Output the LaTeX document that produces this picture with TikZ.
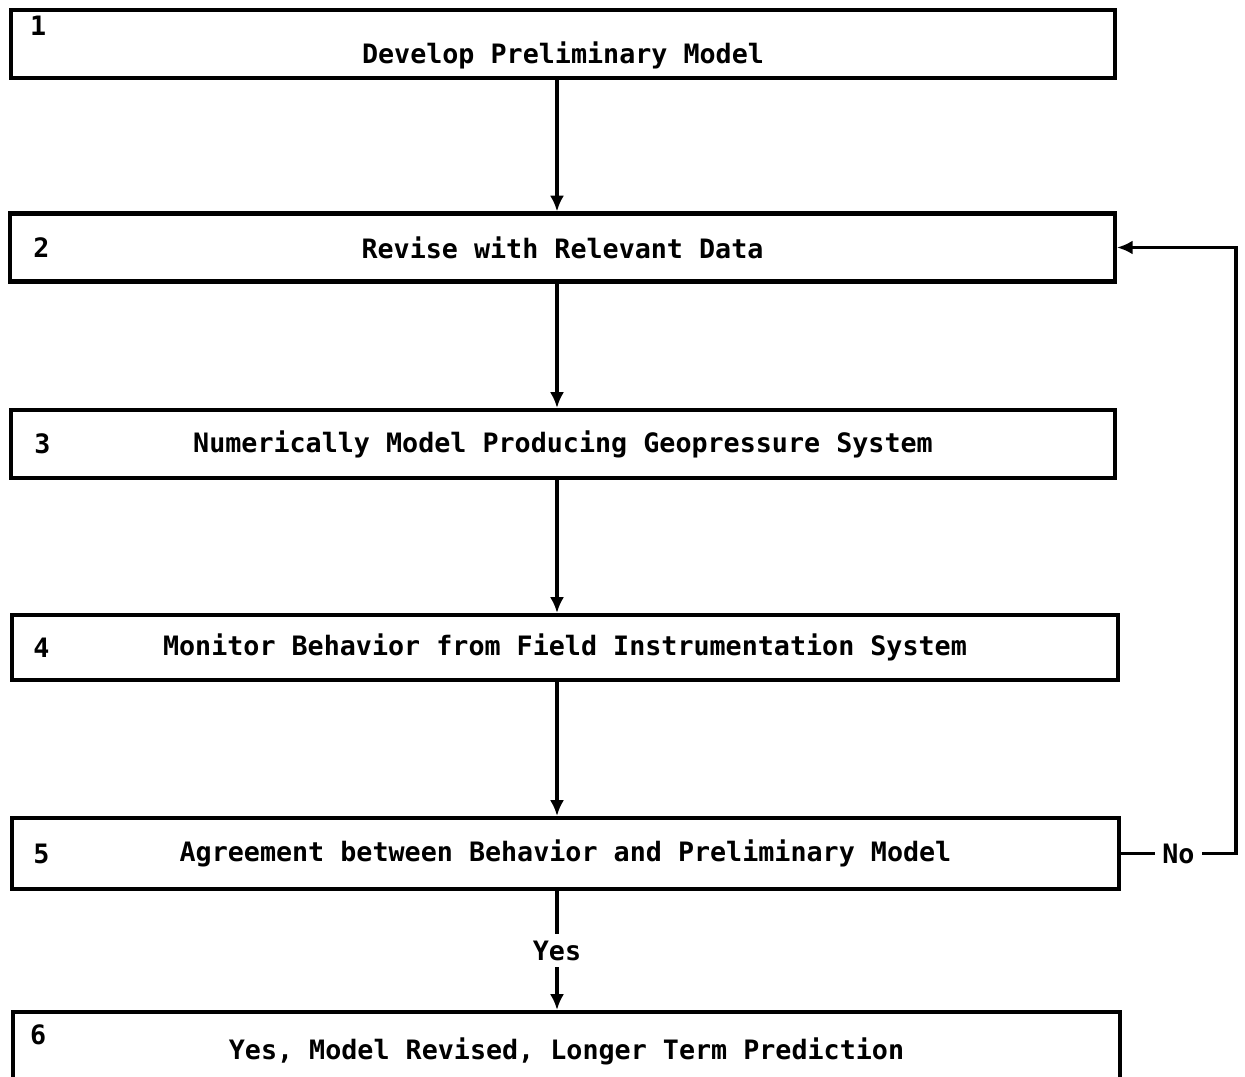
\documentclass[tikz,border=0pt]{standalone}
\usepackage{fontspec}
\setmonofont{DejaVu Sans Mono}
\usetikzlibrary{positioning,arrows.meta}

\tikzset{
  stage/.style={draw, line width=2.3pt, inner sep=0pt,
    minimum width=22.1cm, minimum height=1.36cm,
    font=\ttfamily\bfseries\fontsize{15.2}{18}\selectfont},
  num/.style={inner sep=0pt, font=\ttfamily\bfseries\fontsize{15.2}{18}\selectfont},
  lbl/.style={fill=white, inner sep=4pt, font=\ttfamily\bfseries\fontsize{15.2}{18}\selectfont},
  flow/.style={line width=2.1pt, -{Latex[length=9pt,width=8pt]}},
}

\begin{document}
\begin{tikzpicture}[x=0.02cm,y=-0.02cm]
  \useasboundingbox (0,0) rectangle (1245,1077);

  % stages
  \node[stage, minimum width=22.08cm, text height=25pt, text depth=3pt] (b1) at (563,44) {Develop Preliminary Model};
  \node[stage] (b2) at (562.5,247.5) {Revise with Relevant Data};
  \node[stage, minimum width=22.08cm] (b3) at (563,444) {Numerically Model Producing Geopressure System};
  \node[stage, minimum width=22.12cm, minimum height=1.3cm] (b4) at (565,647.5) {Monitor Behavior from Field Instrumentation System};
  \node[stage, minimum width=22.14cm, minimum height=1.42cm] (b5) at (565.5,853.5) {Agreement between Behavior and Preliminary Model};
  \node[stage, minimum width=22.14cm, minimum height=1.56cm] (b6) at (566.5,1051) {Yes, Model Revised, Longer Term Prediction};

  % step numbers
  \node[num] (n1) at ([shift={(0.58cm,-0.36cm)}]b1.north west) {1};
  \node[num, right=0.5cm of b2.west] (n2) {2};
  \node[num, right=0.5cm of b3.west] (n3) {3};
  \node[num, right=0.46cm of b4.west] (n4) {4};
  \node[num, right=0.46cm of b5.west] (n5) {5};
  \node[num] (n6) at ([shift={(0.54cm,-0.5cm)}]b6.north west) {6};

  % main line
  \coordinate (axis) at (557,0);
  \coordinate (turn) at (1236,0);
  \draw[flow] (b1.south -| axis) -- (b2.north -| axis);
  \draw[flow] (b2.south -| axis) -- (b3.north -| axis);
  \draw[flow] (b3.south -| axis) -- (b4.north -| axis);
  \draw[flow] (b4.south -| axis) -- (b5.north -| axis);
  \draw[flow] (b5.south -| axis) -- node[lbl] (yes) {Yes} (b6.north -| axis);

  % feedback
  \draw[flow] (b5.east) -- node[lbl] (no) {No} (b5.east -| turn) |- (b2.east);
\end{tikzpicture}
\end{document}
